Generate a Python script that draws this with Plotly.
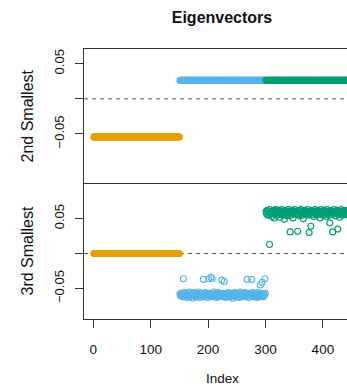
import plotly.graph_objects as go

# ---------------- data ----------------
n_per_group = 150
index_orange = list(range(1, 151))
index_blue = list(range(151, 301))
index_green = list(range(301, 451))

# 2nd smallest eigenvector (constant within each group)
ev2_orange = [-0.0543] * n_per_group
ev2_blue = [0.0265] * n_per_group
ev2_green = [0.0265] * n_per_group

# 3rd smallest eigenvector
ev3_orange = [0.0] * n_per_group
ev3_blue = [
    -0.058, -0.060, -0.057, -0.061, -0.059, -0.062, -0.036, -0.058, -0.056, -0.060,
    -0.061, -0.057, -0.063, -0.059, -0.058, -0.060, -0.055, -0.062, -0.059, -0.057,
    -0.060, -0.058, -0.064, -0.059, -0.056, -0.061, -0.058, -0.060, -0.062, -0.057,
    -0.059, -0.061, -0.055, -0.058, -0.063, -0.060, -0.057, -0.059, -0.061, -0.058,
    -0.062, -0.037, -0.058, -0.060, -0.056, -0.059, -0.061, -0.057, -0.063, -0.058,
    -0.036, -0.060, -0.057, -0.059, -0.034, -0.062, -0.036, -0.058, -0.060, -0.055,
    -0.061, -0.059, -0.057, -0.063, -0.058, -0.060, -0.056, -0.062, -0.059, -0.057,
    -0.060, -0.058, -0.061, -0.038, -0.059, -0.057, -0.062, -0.040, -0.058, -0.060,
    -0.063, -0.057, -0.059, -0.061, -0.058, -0.056, -0.062, -0.060, -0.057, -0.059,
    -0.061, -0.058, -0.064, -0.057, -0.060, -0.059, -0.056, -0.062, -0.058, -0.060,
    -0.057, -0.061, -0.059, -0.063, -0.058, -0.055, -0.060, -0.062, -0.057, -0.059,
    -0.061, -0.058, -0.060, -0.056, -0.062, -0.059, -0.057, -0.037, -0.060, -0.058,
    -0.063, -0.057, -0.059, -0.061, -0.058, -0.037, -0.060, -0.056, -0.062, -0.059,
    -0.057, -0.061, -0.058, -0.060, -0.063, -0.059, -0.056, -0.062, -0.058, -0.060,
    -0.045, -0.057, -0.061, -0.041, -0.059, -0.062, -0.058, -0.060, -0.036, -0.057,
]
ev3_green = [
    0.060, 0.057, 0.062, 0.055, 0.061, 0.058, 0.013, 0.063, 0.056, 0.060,
    0.053, 0.061, 0.058, 0.062, 0.051, 0.057, 0.060, 0.063, 0.055, 0.061,
    0.059, 0.056, 0.062, 0.060, 0.052, 0.061, 0.057, 0.063, 0.058, 0.055,
    0.061, 0.059, 0.049, 0.062, 0.056, 0.059, 0.061, 0.054, 0.060, 0.063,
    0.057, 0.061, 0.031, 0.058, 0.055, 0.062, 0.060, 0.051, 0.061, 0.057,
    0.063, 0.059, 0.056, 0.061, 0.060, 0.032, 0.057, 0.062, 0.054, 0.061,
    0.058, 0.063, 0.055, 0.060, 0.061, 0.050, 0.057, 0.062, 0.059, 0.056,
    0.061, 0.058, 0.063, 0.055, 0.060, 0.030, 0.057, 0.061, 0.039, 0.062,
    0.056, 0.060, 0.061, 0.053, 0.058, 0.063, 0.057, 0.061, 0.055, 0.060,
    0.062, 0.058, 0.056, 0.061, 0.051, 0.060, 0.063, 0.057, 0.059, 0.055,
    0.061, 0.062, 0.056, 0.060, 0.058, 0.053, 0.063, 0.057, 0.061, 0.059,
    0.055, 0.044, 0.060, 0.062, 0.056, 0.061, 0.031, 0.058, 0.057, 0.063,
    0.060, 0.054, 0.061, 0.058, 0.062, 0.035, 0.056, 0.060, 0.052, 0.061,
    0.058, 0.063, 0.057, 0.055, 0.061, 0.060, 0.062, 0.056, 0.059, 0.061,
    0.057, 0.060, 0.062, 0.055, 0.061, 0.058, 0.056, 0.063, 0.060, 0.057,
]

x_ticks = [0, 100, 200, 300, 400]
y_ticks = [-0.05, 0.0, 0.05]
y_tick_text = ["\u22120.05", "", "0.05"]

col_orange = "#E69F00"
col_blue = "#56B4E9"
col_green = "#009E73"

FONT = "Liberation Sans, Arial, Helvetica, sans-serif"

# ---------------- figure ----------------
fig = go.Figure()


def add_group(x, y, color, xa, ya):
    fig.add_trace(go.Scatter(
        x=x, y=y, mode="markers", xaxis=xa, yaxis=ya, showlegend=False,
        marker=dict(symbol="circle-open", size=6, color=color,
                    line=dict(width=1.1, color=color)),
        hoverinfo="skip",
    ))


# top panel (2nd smallest)
add_group(index_orange, ev2_orange, col_orange, "x2", "y2")
add_group(index_blue, ev2_blue, col_blue, "x2", "y2")
add_group(index_green, ev2_green, col_green, "x2", "y2")
# bottom panel (3rd smallest)
add_group(index_orange, ev3_orange, col_orange, "x", "y")
add_group(index_blue, ev3_blue, col_blue, "x", "y")
add_group(index_green, ev3_green, col_green, "x", "y")

xr = [-16.2, 442.0]
axis_line = dict(showline=True, linecolor="#333", linewidth=1, showgrid=False, zeroline=False)

fig.update_layout(
    width=347, height=387,
    margin=dict(l=84, r=0, t=49, b=68),
    paper_bgcolor="white", plot_bgcolor="white",
    font=dict(family=FONT, color="#111"),
    xaxis=dict(domain=[0, 1], anchor="y", range=xr, mirror=True,
               tickvals=x_ticks, ticks="outside", ticklen=8, tickwidth=1, tickcolor="#333",
               tickfont=dict(size=13.5, family=FONT, color="#111"), ticklabelstandoff=10,
               **axis_line),
    yaxis=dict(domain=[0, 0.5], anchor="x", range=[-0.0937, 0.0996],
               tickvals=y_ticks, ticktext=y_tick_text, tickangle=-90,
               ticks="outside", ticklen=8, tickwidth=1, tickcolor="#333",
               tickfont=dict(size=13, family=FONT, color="#111"), ticklabelstandoff=6,
               **axis_line),
    xaxis2=dict(domain=[0, 1], anchor="y2", range=xr, side="top", mirror=False,
                showticklabels=False, ticks="", matches="x", **axis_line),
    yaxis2=dict(domain=[0.5, 1], anchor="x2", range=[-0.1214, 0.071],
                tickvals=y_ticks, ticktext=y_tick_text, tickangle=-90,
                ticks="outside", ticklen=8, tickwidth=1, tickcolor="#333",
                tickfont=dict(size=13, family=FONT, color="#111"), ticklabelstandoff=6,
                **axis_line),
    title=dict(text="<b>Eigenvectors</b>", xref="container", yref="container",
               x=222 / 347, y=1 - 17 / 387, xanchor="center", yanchor="middle",
               font=dict(size=16, family=FONT, color="#111")),
    shapes=[
        dict(type="line", xref="x domain", yref="y", x0=0, x1=1, y0=0, y1=0,
             line=dict(color="#555", width=1, dash="4px,4px"), layer="below"),
        dict(type="line", xref="x2 domain", yref="y2", x0=0, x1=1, y0=0, y1=0,
             line=dict(color="#555", width=1, dash="4px,4px"), layer="below"),
    ],
    annotations=[
        dict(text="2nd Smallest", xref="paper", yref="y2 domain", x=(27 - 84) / 263, y=0.5,
             textangle=-90, showarrow=False, xanchor="center", yanchor="middle",
             font=dict(size=16, family=FONT, color="#111")),
        dict(text="3rd Smallest", xref="paper", yref="y domain", x=(27 - 84) / 263, y=0.5,
             textangle=-90, showarrow=False, xanchor="center", yanchor="middle",
             font=dict(size=16, family=FONT, color="#111")),
        dict(text="Index", xref="paper", yref="paper", x=(222 - 84) / 263,
             y=-(378 - 319) / 270, showarrow=False, xanchor="center", yanchor="middle",
             font=dict(size=13.5, family=FONT, color="#111")),
    ],
)

fig.write_html("out.html")
